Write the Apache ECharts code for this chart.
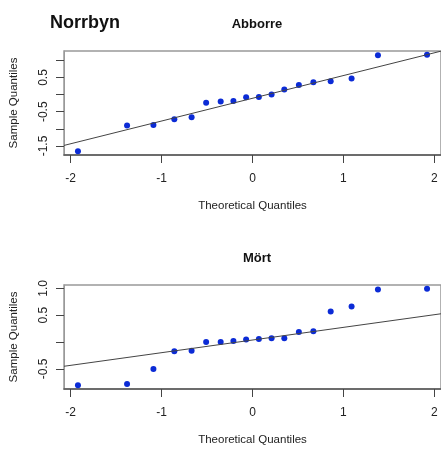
<!DOCTYPE html>
<html>
<head>
<meta charset="utf-8">
<script src="https://cdn.jsdelivr.net/npm/echarts@6/dist/echarts.min.js"></script>
<style>
html, body { margin: 0; background: #fff; }
#chart { width: 441px; height: 449px; }
</style>
</head>
<body>
<div id="chart"></div>
<script>
// theoretical normal quantiles (n = 18), read from the x positions
var theoretical = [-1.92, -1.38, -1.09, -0.86, -0.67, -0.51, -0.35, -0.21, -0.07,
    0.07, 0.21, 0.35, 0.51, 0.67, 0.86, 1.09, 1.38, 1.92];
var abborre = [-1.65, -0.90, -0.89, -0.72, -0.66, -0.24, -0.20, -0.19, -0.08,
    -0.07, 0.00, 0.15, 0.28, 0.36, 0.39, 0.47, 1.15, 1.16];
var mort = [-0.80, -0.78, -0.50, -0.17, -0.16, 0.00, 0.00, 0.02, 0.05,
    0.06, 0.07, 0.07, 0.19, 0.20, 0.57, 0.66, 0.98, 0.99];
var xTicks = [-2, -1, 0, 1, 2];
var abborreTicks = [-1.5, -1, -0.5, 0, 0.5, 1];
var abborreLabels = [-1.5, -0.5, 0.5];
var mortTicks = [-0.5, 0, 0.5, 1];
var mortLabels = [-0.5, 0.5, 1];

var Q_NORM_75 = 0.6745;
var FONT = 'Liberation Sans, Arial, sans-serif';
var TXT = '#222';

// R style quantile (type 7)
function quantile(arr, p) {
    var s = arr.slice().sort(function (a, b) { return a - b; });
    var h = (s.length - 1) * p;
    var lo = Math.floor(h);
    return s[lo] + (h - lo) * ((s[lo + 1] === undefined ? s[lo] : s[lo + 1]) - s[lo]);
}

// qqline: through first and third quartiles
function qqline(arr) {
    var y1 = quantile(arr, 0.25), y2 = quantile(arr, 0.75);
    var slope = (y2 - y1) / (2 * Q_NORM_75);
    return { slope: slope, intercept: y1 + Q_NORM_75 * slope };
}

// range extended 4% like R
function extent(arr) {
    var mn = Math.min.apply(null, arr), mx = Math.max.apply(null, arr);
    var pad = (mx - mn) * 0.04;
    return [mn - pad, mx + pad];
}

var xr = extent(theoretical);

function makeX(idx) {
    return {
        type: 'value', gridIndex: idx, min: xr[0], max: xr[1],
        name: 'Theoretical Quantiles', nameLocation: 'middle', nameGap: 45,
        nameTextStyle: { fontSize: 11.5, color: TXT, fontFamily: FONT },
        axisLine: { show: true, onZero: false, lineStyle: { color: '#555', width: 1.5 } },
        axisTick: { show: true, length: 8, customValues: xTicks, lineStyle: { color: '#444' } },
        axisLabel: { customValues: xTicks, fontSize: 12, color: TXT, fontFamily: FONT, margin: 18 },
        splitLine: { show: false }
    };
}

function makeY(idx, arr, ticks, labels) {
    var yr = extent(arr);
    return {
        type: 'value', gridIndex: idx, min: yr[0], max: yr[1],
        name: 'Sample Quantiles', nameLocation: 'middle', nameGap: 44, nameRotate: 90,
        nameTextStyle: { fontSize: 11.5, color: TXT, fontFamily: FONT },
        axisLine: { show: true, onZero: false, lineStyle: { color: '#999', width: 1 } },
        axisTick: { show: true, length: 8, customValues: ticks, lineStyle: { color: '#444' } },
        axisLabel: {
            customValues: labels, rotate: 90, fontSize: 12, color: TXT, fontFamily: FONT, margin: 14,
            formatter: function (v) { return v.toFixed(1); }
        },
        splitLine: { show: false }
    };
}

function pointSeries(idx, arr) {
    return {
        type: 'scatter', xAxisIndex: idx, yAxisIndex: idx,
        symbolSize: 6, itemStyle: { color: '#0b2bd6', opacity: 1 },
        data: theoretical.map(function (x, i) { return [x, arr[i]]; })
    };
}

function lineSeries(idx, arr) {
    var fit = qqline(arr);
    return {
        type: 'line', xAxisIndex: idx, yAxisIndex: idx, symbol: 'none',
        lineStyle: { color: '#444', width: 1 }, clip: true, silent: true,
        data: xr.map(function (x) { return [x, fit.intercept + fit.slope * x]; })
    };
}

var chart = echarts.init(document.getElementById('chart'));
chart.setOption({
    animation: false,
    backgroundColor: '#fff',
    title: [
        { text: 'Norrbyn', left: 45, top: 9, textStyle: { fontSize: 18, fontWeight: 'bold', color: '#111', fontFamily: FONT } },
        { text: 'Abborre', left: 252, top: 13, textAlign: 'center', textStyle: { fontSize: 13, fontWeight: 'bold', color: '#111', fontFamily: FONT } },
        { text: 'Mört', left: 252, top: 247, textAlign: 'center', textStyle: { fontSize: 13, fontWeight: 'bold', color: '#111', fontFamily: FONT } }
    ],
    grid: [
        { left: 62, top: 51, width: 381, height: 104, show: true, borderColor: '#999', borderWidth: 1.5 },
        { left: 62, top: 285, width: 381, height: 104, show: true, borderColor: '#999', borderWidth: 1.5 }
    ],
    xAxis: [makeX(0), makeX(1)],
    yAxis: [makeY(0, abborre, abborreTicks, abborreLabels), makeY(1, mort, mortTicks, mortLabels)],
    series: [
        lineSeries(0, abborre), pointSeries(0, abborre),
        lineSeries(1, mort), pointSeries(1, mort)
    ]
});
</script>
</body>
</html>
